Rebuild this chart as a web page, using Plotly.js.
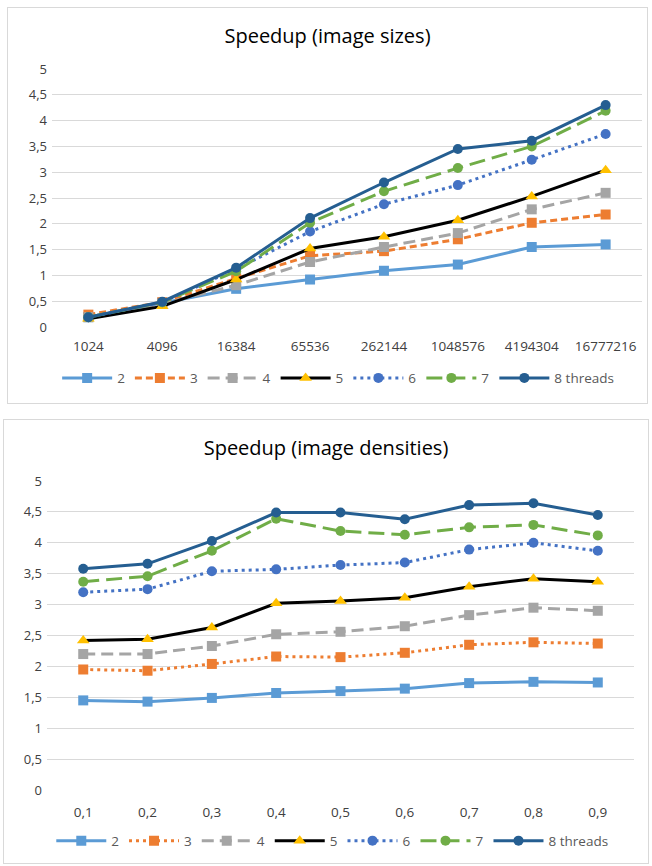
<!DOCTYPE html>
<html>
<head>
<meta charset="utf-8">
<script src="https://cdn.plot.ly/plotly-3.0.1.min.js"></script>
<style>
  html, body { margin: 0; padding: 0; background: #ffffff; width: 652px; height: 866px; overflow: hidden; }
  .box { position: absolute; border: 1px solid #d9d9d9; background: #fff; box-sizing: border-box; }
  #c1 { left: 7px; top: 7px; width: 641px; height: 397px; }
  #c2 { left: 3px; top: 419px; width: 646px; height: 445px; }
</style>
</head>
<body>
<div id="c1" class="box"></div>
<div id="c2" class="box"></div>
<script>
// ---- Chart 1: Speedup (image sizes) ----
const sizeCategories = ["1024", "4096", "16384", "65536", "262144", "1048576", "4194304", "16777216"];
const sizes_t2 = [0.19, 0.47, 0.74, 0.92, 1.09, 1.21, 1.55, 1.60];
const sizes_t3 = [0.24, 0.48, 0.94, 1.38, 1.47, 1.70, 2.02, 2.18];
const sizes_t4 = [0.19, 0.45, 0.81, 1.26, 1.55, 1.82, 2.28, 2.60];
const sizes_t5 = [0.16, 0.40, 0.92, 1.52, 1.75, 2.07, 2.53, 3.04];
const sizes_t6 = [0.19, 0.48, 1.12, 1.85, 2.38, 2.75, 3.24, 3.74];
const sizes_t7 = [0.19, 0.48, 1.08, 2.02, 2.63, 3.08, 3.50, 4.19];
const sizes_t8 = [0.19, 0.49, 1.15, 2.11, 2.80, 3.45, 3.61, 4.30];

// ---- Chart 2: Speedup (image densities) ----
const densityCategories = ["0,1", "0,2", "0,3", "0,4", "0,5", "0,6", "0,7", "0,8", "0,9"];
const dens_t2 = [1.45, 1.43, 1.49, 1.57, 1.60, 1.64, 1.73, 1.75, 1.74];
const dens_t3 = [1.95, 1.93, 2.04, 2.16, 2.15, 2.22, 2.35, 2.39, 2.37];
const dens_t4 = [2.20, 2.20, 2.33, 2.52, 2.56, 2.65, 2.83, 2.95, 2.90];
const dens_t5 = [2.42, 2.44, 2.63, 3.02, 3.06, 3.11, 3.29, 3.42, 3.37];
const dens_t6 = [3.20, 3.25, 3.54, 3.57, 3.64, 3.68, 3.89, 4.00, 3.87];
const dens_t7 = [3.37, 3.46, 3.87, 4.39, 4.19, 4.13, 4.25, 4.29, 4.12];
const dens_t8 = [3.58, 3.66, 4.03, 4.49, 4.49, 4.38, 4.61, 4.64, 4.45];

const seriesNames = ["2", "3", "4", "5", "6", "7", "8 threads"];

const FONT = "'Open Sans', 'Noto Sans', sans-serif";

function styles(dash3) {
  return [
    {line: {color: "#5B9BD5", width: 3, dash: "solid"}, marker: {symbol: "square", size: 10, color: "#5B9BD5"}},
    {line: {color: "#ED7D31", width: 3, dash: dash3}, marker: {symbol: "square", size: 10, color: "#ED7D31"}},
    {line: {color: "#A5A5A5", width: 3, dash: "12px,6px"}, marker: {symbol: "square", size: 10, color: "#A5A5A5"}},
    {line: {color: "#000000", width: 3, dash: "solid"}, marker: {symbol: "triangle-up", size: 11, color: "#FFC000"}},
    {line: {color: "#4472C4", width: 3, dash: "3px,4px"}, marker: {symbol: "circle", size: 10, color: "#4472C4"}},
    {line: {color: "#70AD47", width: 3, dash: "16px,7px"}, marker: {symbol: "circle", size: 10, color: "#70AD47"}},
    {line: {color: "#255E91", width: 3, dash: "solid"}, marker: {symbol: "circle", size: 10, color: "#255E91"}}
  ];
}

function makeTraces(cats, arrays, dash3) {
  const st = styles(dash3);
  return arrays.map((ys, i) => ({
    type: "scatter", mode: "lines+markers", x: cats, y: ys, name: seriesNames[i],
    line: st[i].line, marker: st[i].marker, cliponaxis: false
  }));
}

function makeLayout(title, w, h, m, titleY, legendY, standoff, legendX) {
  return {
    width: w, height: h,
    margin: m,
    paper_bgcolor: "rgba(0,0,0,0)", plot_bgcolor: "rgba(0,0,0,0)",
    separators: ", ",
    font: {family: FONT, color: "#595959", size: 13},
    title: {text: title, x: 0.5, xanchor: "center", y: titleY, yanchor: "middle",
            font: {family: FONT, size: 20, color: "#000000", weight: "normal"}},
    xaxis: {type: "category", showgrid: false, zeroline: false, showline: false, automargin: false,
            ticks: "", ticklabelstandoff: standoff, tickfont: {size: 13.5, color: "#404040"}, fixedrange: true},
    yaxis: {range: [0, 5], dtick: 0.5, tick0: 0, showgrid: true, gridcolor: "#d9d9d9", gridwidth: 1,
            zeroline: false, showline: false, ticks: "", ticklabelstandoff: 4, automargin: false,
            tickfont: {size: 13, color: "#404040"}, fixedrange: true},
    showlegend: true,
    legend: {orientation: "h", x: legendX, xanchor: "center", y: legendY, yref: "container", yanchor: "middle",
             font: {size: 13.5, color: "#595959"}, traceorder: "normal", itemwidth: 50}
  };
}

Plotly.newPlot("c1",
  makeTraces(sizeCategories, [sizes_t2, sizes_t3, sizes_t4, sizes_t5, sizes_t6, sizes_t7, sizes_t8], "7px,4px"),
  makeLayout("Speedup (image sizes)", 639, 395, {l: 44, r: 5, t: 61, b: 76}, 0.928, 0.063, 9, 0.485),
  {staticPlot: true});

Plotly.newPlot("c2",
  makeTraces(densityCategories, [dens_t2, dens_t3, dens_t4, dens_t5, dens_t6, dens_t7, dens_t8], "3px,4px"),
  makeLayout("Speedup (image densities)", 644, 443, {l: 43, r: 14, t: 61, b: 73}, 0.937, 0.05, 12, 0.486),
  {staticPlot: true});
</script>
</body>
</html>
